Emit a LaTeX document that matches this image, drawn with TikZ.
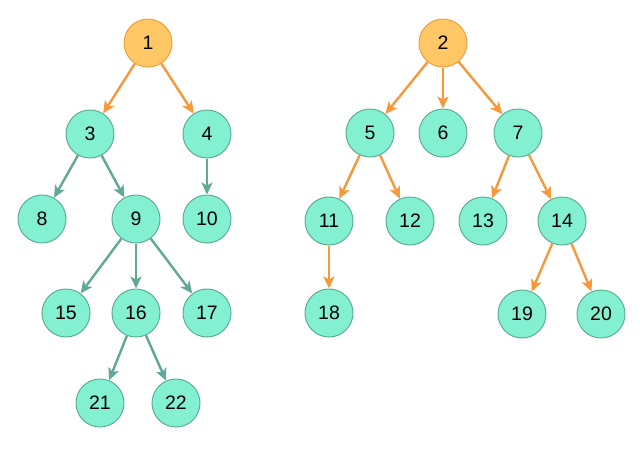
\documentclass[tikz,border=0pt]{standalone}
\usepackage{fontspec}
\setmainfont{Liberation Sans}
\usetikzlibrary{arrows.meta}
\definecolor{tealfill}{HTML}{84F0D2}
\definecolor{tealdraw}{HTML}{5DAF94}
\definecolor{orfill}{HTML}{FFC766}
\definecolor{ordraw}{HTML}{EFA043}
\definecolor{oredge}{HTML}{F7983A}
\definecolor{tedge}{HTML}{62A898}
\begin{document}
\begin{tikzpicture}[x=1pt,y=-1pt,
  tn/.style={circle,draw=tealdraw,fill=tealfill,line width=1pt,minimum size=48pt,inner sep=0pt,font=\fontsize{19.5}{19.5}\selectfont},
  on/.style={tn,draw=ordraw,fill=orfill},
  oe/.style={draw=oredge,line width=2.4pt,-{Stealth[length=12pt,width=11pt,inset=3pt]}},
  te/.style={draw=tedge,line width=2.4pt,-{Stealth[length=12pt,width=11pt,inset=3pt]}}]
\useasboundingbox[fill=white] (0,0) rectangle (640,451);
\node[on] (n1) at (148,43) {1};
\node[on] (n2) at (443,43) {2};
\node[tn] (n3) at (90,134) {3};
\node[tn] (n4) at (207,134) {4};
\node[tn] (n5) at (370,133) {5};
\node[tn] (n6) at (443,133) {6};
\node[tn] (n7) at (518,133) {7};
\node[tn] (n8) at (42,219) {8};
\node[tn] (n9) at (136,219) {9};
\node[tn] (n10) at (207,219) {10};
\node[tn] (n11) at (329,221) {11};
\node[tn] (n12) at (410,221) {12};
\node[tn] (n13) at (483,221) {13};
\node[tn] (n14) at (562,221) {14};
\node[tn] (n15) at (66,313) {15};
\node[tn] (n16) at (136,313) {16};
\node[tn] (n17) at (207,313) {17};
\node[tn] (n18) at (329,313) {18};
\node[tn] (n19) at (522,314) {19};
\node[tn] (n20) at (601,314) {20};
\node[tn] (n21) at (100,403) {21};
\node[tn] (n22) at (176,403) {22};
\draw[oe] (n1) -- (n3);
\draw[oe] (n1) -- (n4);
\draw[te] (n3) -- (n8);
\draw[te] (n3) -- (n9);
\draw[te] (n4) -- (n10);
\draw[te] (n9) -- (n15);
\draw[te] (n9) -- (n16);
\draw[te] (n9) -- (n17);
\draw[te] (n16) -- (n21);
\draw[te] (n16) -- (n22);
\draw[oe] (n2) -- (n5);
\draw[oe] (n2) -- (n6);
\draw[oe] (n2) -- (n7);
\draw[oe] (n5) -- (n11);
\draw[oe] (n5) -- (n12);
\draw[oe] (n7) -- (n13);
\draw[oe] (n7) -- (n14);
\draw[oe] (n11) -- (n18);
\draw[oe] (n14) -- (n19);
\draw[oe] (n14) -- (n20);
\end{tikzpicture}
\end{document}
